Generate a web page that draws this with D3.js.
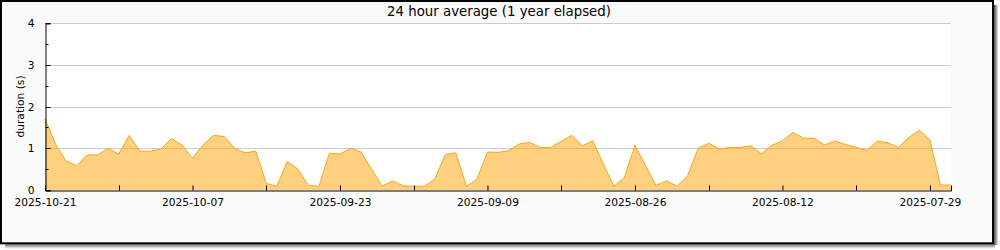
<!DOCTYPE html>
<html>
  <head>
    <meta charset="UTF-8" />
    <script src="https://cdn.jsdelivr.net/npm/d3@7"></script>
    <title>24 hour average</title>
    <style type="text/css">
      html, body { margin: 0; padding: 0; background: #ffffff; }
      svg { display: block; font-family: "DejaVu Sans", sans-serif; }
    </style>
  </head>
  <body>
    <div id="chartcontainer"></div>
    <script>
      // first day (left) and last day (right) of the window, one point per day
      const startDay = "2025-10-21";
      const endDay = "2025-07-27";

      // 24 hour average duration in seconds, newest first
      const durations = [
        1.70, 1.10, 0.70, 0.58, 0.84, 0.84, 1.00, 0.86, 1.31, 0.93,
        0.93, 0.98, 1.23, 1.08, 0.76, 1.08, 1.31, 1.28, 1.00, 0.89,
        0.93, 0.16, 0.09, 0.68, 0.50, 0.11, 0.09, 0.88, 0.86, 1.00,
        0.91, 0.50, 0.09, 0.22, 0.10, 0.09, 0.09, 0.26, 0.85, 0.89,
        0.09, 0.26, 0.91, 0.90, 0.94, 1.10, 1.14, 1.02, 1.02, 1.16,
        1.31, 1.06, 1.18, 0.62, 0.09, 0.30, 1.07, 0.59, 0.11, 0.22,
        0.09, 0.34, 1.00, 1.12, 0.98, 1.02, 1.02, 1.06, 0.87, 1.07,
        1.18, 1.38, 1.24, 1.24, 1.08, 1.17, 1.09, 1.02, 0.95, 1.17,
        1.13, 1.02, 1.26, 1.43, 1.20, 0.12, 0.12
      ];

      // labelled and unlabelled x ticks
      const labelTicks = ["2025-10-21", "2025-10-07", "2025-09-23", "2025-09-09",
                          "2025-08-26", "2025-08-12", "2025-07-29"];
      const weekTicks = ["2025-10-14", "2025-09-30", "2025-09-16", "2025-09-02",
                         "2025-08-19", "2025-08-05"];
      const yTicks = [0, 1, 2, 3, 4];
      const yMinorTicks = [0.5, 1.5, 2.5, 3.5];

      const parse = d3.utcParse("%Y-%m-%d");
      const fmt = d3.utcFormat("%Y-%m-%d");

      const days = d3.utcDay.range(parse(endDay), d3.utcDay.offset(parse(startDay), 1)).reverse();
      const data = durations.map(function (v, i) {
        return { date: days[i], value: v };
      });

      const W = 1000, H = 250;
      const margin = { top: 23, right: 49, bottom: 60, left: 45 };

      const svg = d3.select("#chartcontainer")
        .append("svg")
        .attr("width", W)
        .attr("height", H);

      // drop shadow under the frame
      const shades = ["#555", "#888", "#aaa", "#d0d0d0"];
      shades.forEach(function (c, i) {
        svg.append("rect").attr("x", 994 + i).attr("y", 5).attr("width", 1).attr("height", 240).attr("fill", c);
        svg.append("rect").attr("x", 5).attr("y", 244.3 + i).attr("width", 990).attr("height", 1).attr("fill", c);
      });

      // frame
      svg.append("rect")
        .attr("x", 1).attr("y", 1)
        .attr("width", 992).attr("height", 242.3)
        .attr("fill", "#fafafa")
        .attr("stroke", "#000")
        .attr("stroke-width", 2);

      const x = d3.scaleUtc()
        .domain([parse(startDay), parse(endDay)])
        .range([margin.left, W - margin.right]);

      const y = d3.scaleLinear()
        .domain([0, 4])
        .range([190, margin.top]);

      // plot background
      svg.append("rect")
        .attr("x", x.range()[0]).attr("y", y(4))
        .attr("width", x.range()[1] - x.range()[0])
        .attr("height", y(0) - y(4))
        .attr("fill", "#fff");

      // gridlines
      svg.append("g")
        .selectAll("line")
        .data(yTicks.slice(1))
        .join("line")
        .attr("x1", x.range()[0]).attr("x2", x.range()[1])
        .attr("y1", function (d) { return Math.round(y(d)) + 0.5; })
        .attr("y2", function (d) { return Math.round(y(d)) + 0.5; })
        .attr("stroke", "#cccccc");

      // area + line
      svg.append("path")
        .datum(data)
        .attr("fill", "#ffa200")
        .attr("fill-opacity", 0.5)
        .attr("d", d3.area()
          .x(function (d) { return x(d.date); })
          .y0(y(0))
          .y1(function (d) { return y(d.value); }));

      svg.append("path")
        .datum(data)
        .attr("fill", "none")
        .attr("stroke", "#f8a519")
        .attr("stroke-width", 1)
        .attr("d", d3.line()
          .x(function (d) { return x(d.date); })
          .y(function (d) { return y(d.value); }));

      // y axis
      const yAxis = svg.append("g").attr("transform", "translate(" + (x.range()[0] + 0.5) + ",0.5)");
      yAxis.call(d3.axisLeft(y).tickValues(yTicks).tickSize(-5).tickPadding(11).tickFormat(d3.format("d")));
      yAxis.selectAll(".tick")
        .attr("transform", function (d) { return "translate(0," + Math.round(y(d)) + ")"; });
      yAxis.selectAll("line.minor")
        .data(yMinorTicks)
        .join("line")
        .attr("class", "minor")
        .attr("x1", 0).attr("x2", 3)
        .attr("y1", function (d) { return Math.round(y(d)); })
        .attr("y2", function (d) { return Math.round(y(d)); })
        .attr("stroke", "#000");

      // x axis
      const xAxis = svg.append("g").attr("transform", "translate(0," + (Math.round(y(0)) + 0.5) + ")");
      xAxis.call(d3.axisBottom(x)
        .tickValues(labelTicks.map(parse))
        .tickSize(-5)
        .tickPadding(8)
        .tickFormat(fmt));
      xAxis.selectAll("line.week")
        .data(weekTicks.map(parse))
        .join("line")
        .attr("class", "week")
        .attr("x1", function (d) { return Math.round(x(d)) + 0.5; })
        .attr("x2", function (d) { return Math.round(x(d)) + 0.5; })
        .attr("y1", 0).attr("y2", -5)
        .attr("stroke", "#000");

      svg.selectAll(".domain").attr("stroke", "#000");
      svg.selectAll(".tick text")
        .attr("fill", "#000")
        .style("font-family", "DejaVu Sans")
        .style("font-size", "10.67px");

      // title
      svg.append("text")
        .attr("x", 499)
        .attr("y", 16)
        .attr("text-anchor", "middle")
        .style("font-size", "13.33px")
        .text("24 hour average (1 year elapsed)");

      // y axis label
      svg.append("text")
        .attr("transform", "translate(24," + (y(2)) + ") rotate(-90)")
        .attr("text-anchor", "middle")
        .style("font-size", "10.67px")
        .text("duration (s)");
    </script>
  </body>
</html>
